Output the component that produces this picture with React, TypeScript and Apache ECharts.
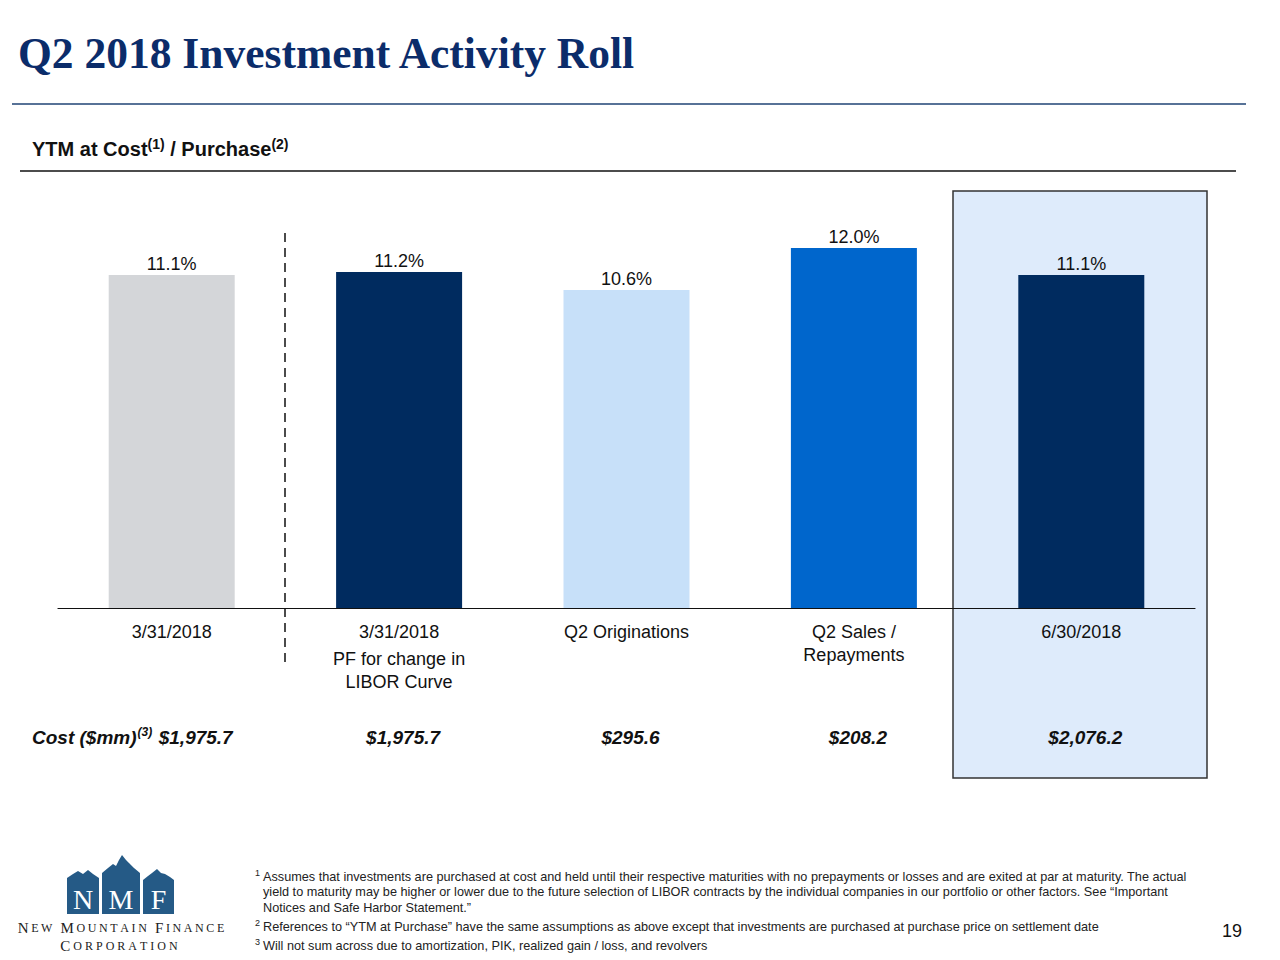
import React, { useEffect, useRef } from 'react';
import * as echarts from 'echarts';

const categoryLabels = ['3/31/2018', '3/31/2018', 'Q2 Originations', 'Q2 Sales /', '6/30/2018'];
const categoryNotes: string[][] = [[], ['PF for change in', 'LIBOR Curve'], [], ['Repayments'], []];
const ytmValues = [11.1, 11.2, 10.6, 12.0, 11.1];
const costValues = ['$1,975.7', '$1,975.7', '$295.6', '$208.2', '$2,076.2'];
const barColors = ['#d4d6d9', '#002b5f', '#c7e0f9', '#0066cc', '#002b5f'];

const titleText = 'Q2 2018 Investment Activity Roll';
const footnotes = [
  { sup: '1', lines: [
    'Assumes that investments are purchased at cost and held until their respective maturities with no prepayments or losses and are exited at par at maturity. The actual',
    'yield to maturity may be higher or lower due to the future selection of LIBOR contracts by the individual companies in our portfolio or other factors. See \u201cImportant',
    'Notices and Safe Harbor Statement.\u201d',
  ] },
  { sup: '2', lines: ['References to \u201cYTM at Purchase\u201d have the same assumptions as above except that investments are purchased at purchase price on settlement date'] },
  { sup: '3', lines: ['Will not sum across due to amortization, PIK, realized gain / loss, and revolvers'] },
];

const SANS = "'Liberation Sans', Arial, Helvetica, sans-serif";
const SERIF = "'Liberation Serif', 'Times New Roman', serif";
const LOGO = '#255a86';

function smallCaps(str: string) {
  return str
    .split(' ')
    .map((w) => w.split('').map((ch, i) => `{${i === 0 ? 'L' : 's'}|${ch}}`).join(''))
    .join('{sp| }');
}

export default function App() {
  const ref = useRef<HTMLDivElement>(null);
  useEffect(() => {
    if (!ref.current) return;
    const chart = echarts.init(ref.current, undefined, { renderer: 'svg' });
    const catKeys = categoryLabels.map((c, i) => [c, ...categoryNotes[i]].join(' '));

    const footGraphics: any[] = [];
    const lineYs = [[877, 892, 908], [927], [946]];
    footnotes.forEach((f, fi) => {
      footGraphics.push({
        type: 'text',
        style: { text: f.sup, x: 255, y: lineYs[fi][0] - 4, font: `9px ${SANS}`, fill: '#222', verticalAlign: 'middle' },
      });
      f.lines.forEach((ln, li) => {
        footGraphics.push({
          type: 'text',
          style: { text: ln, x: 263, y: lineYs[fi][li], font: `12.7px ${SANS}`, fill: '#222', verticalAlign: 'middle' },
        });
      });
    });

    const logoHouses = [
      [[67, 914], [67, 878], [73, 874], [78, 871], [83, 874], [88, 870], [93, 874], [99, 878], [99, 914]],
      [[102, 914], [102, 873], [108, 868], [113, 864], [116, 866], [119, 860], [122, 855], [126, 860], [129, 863], [134, 868], [140, 873], [140, 914]],
      [[143, 914], [143, 880], [148, 876], [152, 873], [157, 869], [161, 873], [165, 874], [170, 877], [174, 880], [174, 914]],
    ];

    const labelStyle = { fontFamily: SANS, fontSize: 18, color: '#111' };

    const option: any = {
      animation: false,
      backgroundColor: '#ffffff',
      grid: { left: 58, right: 85, top: 188, height: 420, containLabel: false },
      xAxis: [
        {
          type: 'category',
          data: catKeys,
          position: 'bottom',
          axisLine: { show: true, lineStyle: { color: '#111', width: 1.2 } },
          axisTick: { show: false },
          axisLabel: {
            margin: 12,
            interval: 0,
            formatter: (_v: string, idx: number) => {
              const notes = categoryNotes[idx];
              let s = `{a|${categoryLabels[idx]}}`;
              if (notes.length === 2) s += `\n{b|${notes[0]}}\n{c|${notes[1]}}`;
              else if (notes.length === 1) s += `\n{d|${notes[0]}}`;
              return s;
            },
            rich: {
              a: { ...labelStyle, lineHeight: 23 },
              b: { ...labelStyle, lineHeight: 31 },
              c: { ...labelStyle, lineHeight: 15 },
              d: { ...labelStyle, lineHeight: 23 },
            },
          },
        },
        {
          type: 'category',
          data: costValues,
          position: 'bottom',
          offset: 0,
          axisLine: { show: false },
          axisTick: { show: false },
          axisLabel: {
            margin: 118,
            interval: 0,
            formatter: (v: string, idx: number) => (idx === 0 ? `{f|${v}}` : `{v|${v}}`),
            rich: {
              f: { fontFamily: SANS, fontSize: 19, fontWeight: 'bold', fontStyle: 'italic', color: '#111', lineHeight: 22, padding: [0, 0, 0, 48] },
              v: { fontFamily: SANS, fontSize: 19, fontWeight: 'bold', fontStyle: 'italic', color: '#111', lineHeight: 22, padding: [0, 0, 0, 8] },
            },
          },
        },
      ],
      yAxis: { type: 'value', min: 0, max: 14, show: false, splitLine: { show: false } },
      series: [
        {
          type: 'bar',
          xAxisIndex: 0,
          barWidth: 126,
          z: 3,
          data: ytmValues.map((v, i) => ({ value: v, itemStyle: { color: barColors[i] } })),
          label: {
            show: true,
            position: 'top',
            distance: 2,
            fontFamily: SANS,
            fontSize: 18,
            color: '#111',
            formatter: (p: any) => `${p.value.toFixed(1)}%`,
          },
        },
      ],
      graphic: [
        {
          type: 'rect',
          z: -10,
          shape: { x: 953, y: 191, width: 254, height: 587 },
          style: { fill: '#deebfb', stroke: '#333', lineWidth: 1.5 },
        },
        {
          type: 'text',
          style: { text: titleText, x: 18, y: 53, font: `bold 43.5px ${SERIF}`, fill: '#0b2c6a', verticalAlign: 'middle' },
        },
        { type: 'line', shape: { x1: 12, y1: 104, x2: 1246, y2: 104 }, style: { stroke: '#1f4374', lineWidth: 1.5 } },
        {
          type: 'text',
          style: {
            text: '{b|YTM at Cost}{s|(1)}{b| / Purchase}{s|(2)}',
            x: 32,
            y: 149,
            verticalAlign: 'middle',
            rich: {
              b: { fontFamily: SANS, fontSize: 20, fontWeight: 'bold', fill: '#111', lineHeight: 24 },
              s: { fontFamily: SANS, fontSize: 14, fontWeight: 'bold', fill: '#111', verticalAlign: 'top', lineHeight: 16 },
            },
          },
        },
        { type: 'line', shape: { x1: 20, y1: 171, x2: 1236, y2: 171 }, style: { stroke: '#111', lineWidth: 1.5 } },
        {
          type: 'line',
          shape: { x1: 285, y1: 233, x2: 285, y2: 665 },
          style: { stroke: '#111', lineWidth: 1.5, lineDash: [9, 6] },
        },
        {
          type: 'text',
          style: {
            text: '{c|Cost ($mm)}{s|(3)}',
            x: 32,
            y: 737,
            verticalAlign: 'middle',
            rich: {
              c: { fontFamily: SANS, fontSize: 19, fontWeight: 'bold', fontStyle: 'italic', fill: '#111', lineHeight: 22 },
              s: { fontFamily: SANS, fontSize: 12, fontWeight: 'bold', fontStyle: 'italic', fill: '#111', verticalAlign: 'top', lineHeight: 14, padding: [0, 0, 0, 1] },
            },
          },
        },
        ...footGraphics,
        {
          type: 'text',
          style: { text: '19', x: 1222, y: 931, font: `18px ${SANS}`, fill: '#111', verticalAlign: 'middle' },
        },
        ...logoHouses.map((pts) => ({ type: 'polygon', shape: { points: pts }, style: { fill: LOGO } })),
        ...[['N', 83], ['M', 121], ['F', 158.5]].map(([t, x]) => ({
          type: 'text',
          style: { text: t as string, x: x as number, y: 899, font: `28px ${SERIF}`, fill: '#ffffff', align: 'center', verticalAlign: 'middle' },
        })),
        {
          type: 'text',
          style: {
            text: smallCaps('NEW MOUNTAIN FINANCE'),
            x: 121,
            y: 928,
            align: 'center',
            verticalAlign: 'middle',
            rich: {
              L: { fontFamily: SERIF, fontSize: 15, fill: '#222', padding: [0, 1.3, 0, 1.3] },
              s: { fontFamily: SERIF, fontSize: 12, fill: '#222', padding: [0, 1.3, 0, 1.3] },
              sp: { fontFamily: SERIF, fontSize: 12, fill: '#222', padding: [0, 1.3, 0, 1.3] },
            },
          },
        },
        {
          type: 'text',
          style: {
            text: smallCaps('CORPORATION'),
            x: 119,
            y: 946,
            align: 'center',
            verticalAlign: 'middle',
            rich: {
              L: { fontFamily: SERIF, fontSize: 15, fill: '#222', padding: [0, 1.5, 0, 1.5] },
              s: { fontFamily: SERIF, fontSize: 12, fill: '#222', padding: [0, 1.5, 0, 1.5] },
            },
          },
        },
      ],
    };
    chart.setOption(option);
    return () => chart.dispose();
  }, []);
  return <div ref={ref} style={{ position: 'fixed', left: 0, top: 0, width: 1280, height: 960 }} />;
}
